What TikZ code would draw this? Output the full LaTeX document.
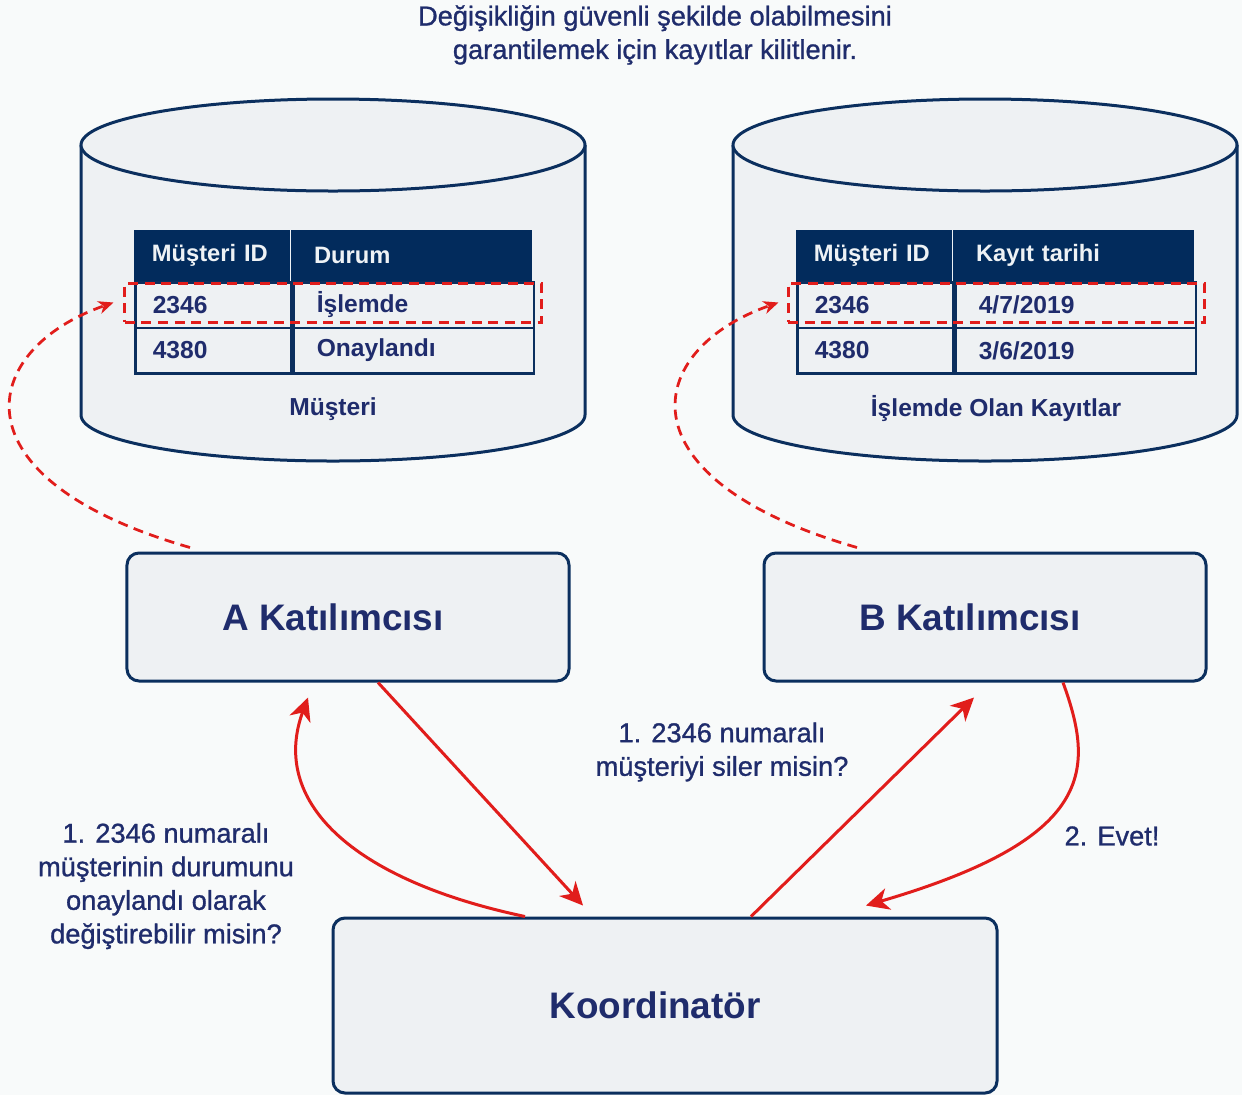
\documentclass[tikz,border=0pt]{standalone}
\usepackage{fontspec}
\setmainfont{Liberation Sans}
\newfontfamily\medfont[FakeBold=1]{Liberation Sans}
\usepackage{tikz}
\usetikzlibrary{arrows.meta, positioning, calc}

\definecolor{bgcol}{HTML}{F8FAFA}
\definecolor{boxfill}{HTML}{EEF1F3}
\definecolor{navyline}{HTML}{0B2F5E}
\definecolor{navytext}{HTML}{1F2C6C}
\definecolor{hdfill}{HTML}{022B5C}
\definecolor{hdtext}{HTML}{EEF2F5}
\definecolor{redline}{HTML}{E11D1B}

\begin{document}
\begin{tikzpicture}[>=Stealth, x=0.2mm, y=-0.2mm,
    cyl/.style={fill=boxfill, draw=navyline, line width=0.6mm},
    hdcell/.style={fill=hdfill, draw=hdfill, text=hdtext, font=\bfseries\fontsize{13.5}{16}\selectfont,
      anchor=north west, minimum height=10.2mm, align=left, inner ysep=0pt},
    rowcell/.style={fill=boxfill, draw=navyline, line width=0.5mm, text=navytext,
      font=\bfseries\fontsize{14}{16}\selectfont, anchor=north west, minimum height=9.1mm,
      align=left, inner ysep=0pt},
    idcol/.style={inner xsep=3.5mm, text width=24.2mm},
    valcol/.style={inner xsep=4.6mm, text width=38.8mm},
    lockrow/.style={draw=redline, line width=0.6mm, dash pattern=on 2mm off 1.3mm,
      minimum width=83.2mm, minimum height=7.8mm, inner sep=0pt},
    party/.style={fill=boxfill, draw=navyline, line width=0.6mm, rounded corners=2.4mm,
      text=navytext, font=\bfseries\fontsize{21}{24}\selectfont,
      minimum width=88.4mm, minimum height=25.6mm},
    dblabel/.style={text=navytext, font=\bfseries\fontsize{14}{17}\selectfont},
    note/.style={text=navytext, align=center, font=\medfont\fontsize{15.5}{19.1}\selectfont},
    msg/.style={draw=redline, line width=0.6mm, -{Stealth[length=4.6mm, width=4.4mm, inset=1.4mm]}},
    lockarrow/.style={draw=redline, line width=0.55mm, dash pattern=on 2mm off 1.3mm,
      -{Stealth[length=3mm, width=2.6mm, inset=0.9mm]}}]

  % Background
  \fill[bgcol] (0,0) rectangle (1242,1095);
  \useasboundingbox (0,0) rectangle (1242,1095);

  % Title
  \node[note] (title) at (655,35) {Değişikliğin güvenli şekilde olabilmesini\\garantilemek için kayıtlar kilitlenir.};

  % Databases
  \foreach \cx in {333, 985} {
    \filldraw[cyl] ({\cx-252},145) -- ({\cx-252},415)
      arc[start angle=180, end angle=0, x radius=252, y radius=46] -- ({\cx+252},145);
    \filldraw[cyl] (\cx,145) ellipse [x radius=252, y radius=46];
  }
  \node[dblabel] (dbA) at (333,409) {Müşteri};
  \node[dblabel] (dbB) at (996,409) {İşlemde Olan Kayıtlar};

  % Table: Müşteri
  \node[hdcell, idcol] (hA1) at (134,230) {Müşteri ID};
  \node[hdcell, valcol] (hA2) at (hA1.north east) {Durum};
  \draw[hdtext, line width=0.3mm] (hA1.north east) -- (hA1.south east);
  \foreach \id/\val [count=\r] in {2346/{İşlemde}, 4380/{Onaylandı}} {
    \node[rowcell, idcol] (cA\r) at (134,{281+45.5*(\r-1)}) {\id};
    \node[rowcell, valcol] (vA\r) at (cA\r.north east) {\val};
  }

  % Table: İşlemde Olan Kayıtlar
  \node[hdcell, idcol] (hB1) at (796,230) {Müşteri ID};
  \node[hdcell, valcol] (hB2) at (hB1.north east) {Kayıt tarihi};
  \draw[hdtext, line width=0.3mm] (hB1.north east) -- (hB1.south east);
  \foreach \id/\val [count=\r] in {2346/{4/7/2019}, 4380/{3/6/2019}} {
    \node[rowcell, idcol] (cB\r) at (796,{281+45.5*(\r-1)}) {\id};
    \node[rowcell, valcol] (vB\r) at (cB\r.north east) {\val};
  }

  % Locked rows
  \node[lockrow] (lockA) at (333,302.5) {};
  \node[lockrow] (lockB) at (996,302.5) {};

  % Participants and coordinator
  \node[party] (partA) at (348,617) {A Katılımcısı\kern6mm};
  \node[party] (partB) at (985,617) {B Katılımcısı\kern6mm};
  \node[party, minimum width=132.8mm, minimum height=35mm] (coord) at (665,1005.5) {Koordinatör\kern4mm};

  % Lock arrows
  \draw[lockarrow] ([xshift=-31.6mm,yshift=0.8mm]partA.north)
    .. controls +(-240,-69) and +(-135,47) .. ([xshift=-2mm]lockA.west);
  \draw[lockarrow] ([xshift=-25.6mm,yshift=0.8mm]partB.north)
    .. controls +(-240,-69) and +(-135,47) .. ([xshift=-1.6mm]lockB.west);

  % Messages
  \draw[msg] ([xshift=6mm]partA.south) -- ([xshift=-16.4mm,yshift=2.2mm]coord.north);
  \draw[msg] ([xshift=-28mm]coord.north)
    .. controls +(-175,-37) and +(-38,103) .. ([xshift=-8mm,yshift=-3mm]partA.south);
  \draw[msg] ([xshift=17.2mm]coord.north) -- ([xshift=-2.2mm,yshift=-3mm]partB.south);
  \draw[msg] ([xshift=15.6mm]partB.south)
    .. controls +(32,88) and +(229,-67) .. ([xshift=40.2mm,yshift=2.2mm]coord.north);

  % Message labels
  \node[note] (askA) at (166,886) {1. 2346 numaralı\\müşterinin durumunu\\onaylandı olarak\\değiştirebilir misin?};
  \node[note] (askB) at (722,752) {1. 2346 numaralı\\müşteriyi siler misin?};
  \node[note] (yesB) at (1112,836) {2. Evet!};
\end{tikzpicture}
\end{document}
